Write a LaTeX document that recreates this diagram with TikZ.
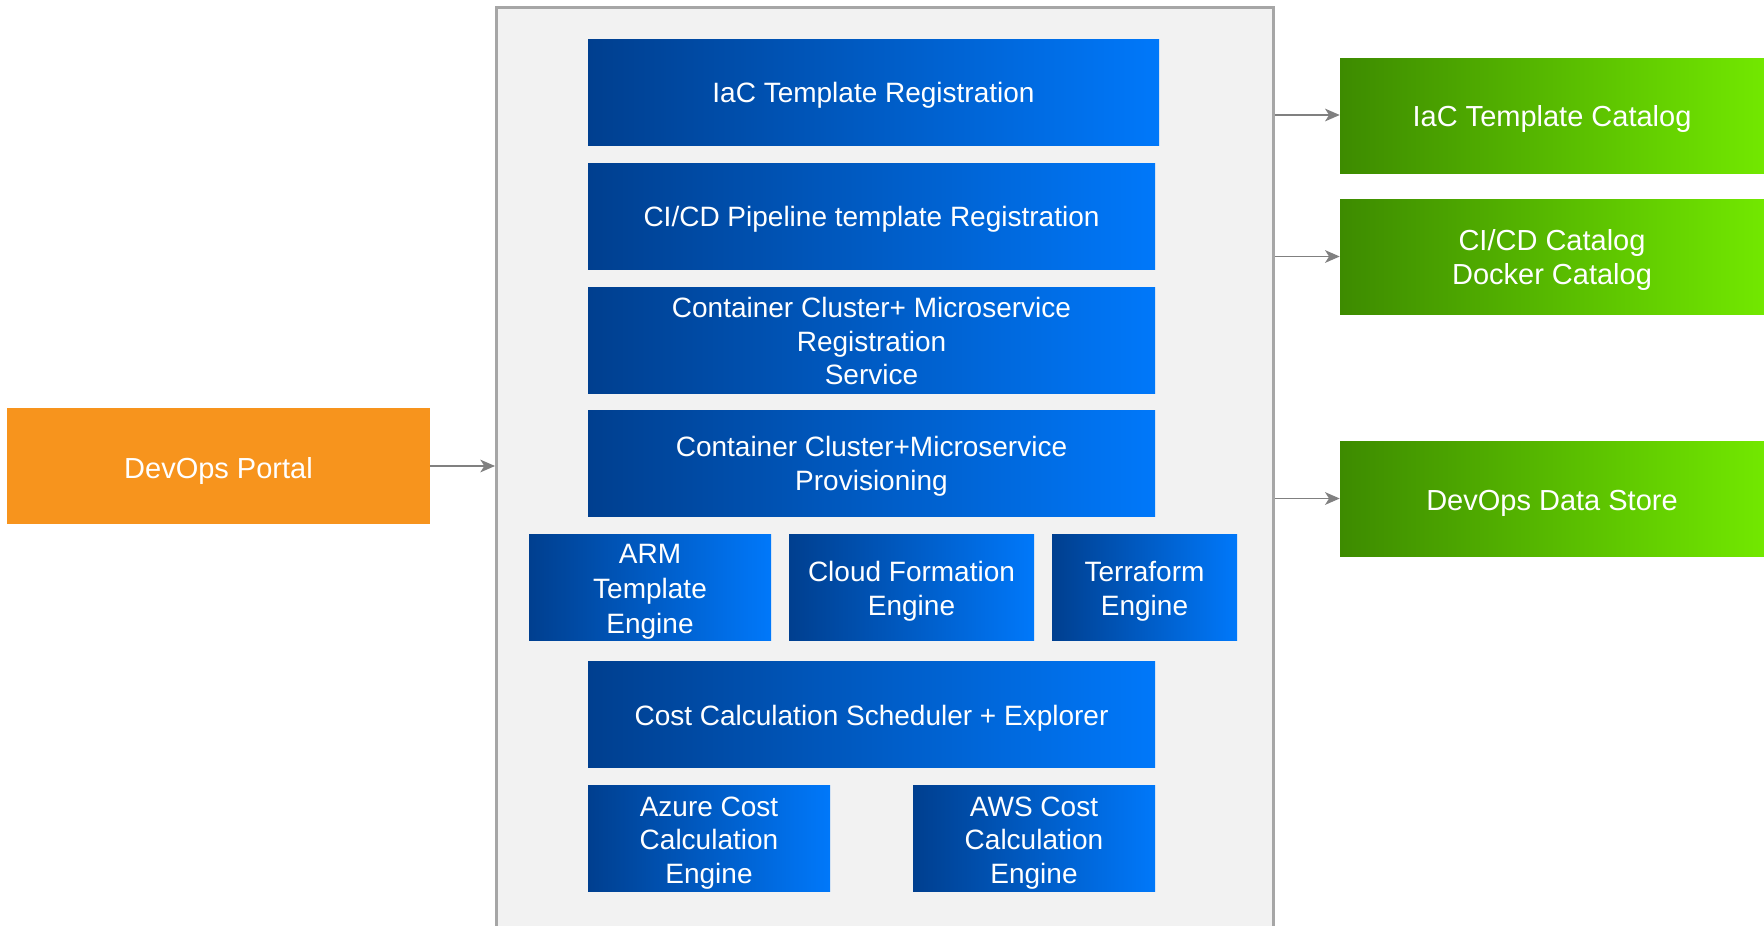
\documentclass[tikz,border=0pt]{standalone}
\usepackage{fontspec}
\setmainfont{Liberation Sans}
\usetikzlibrary{arrows.meta}
\definecolor{blueL}{HTML}{003F8F}
\definecolor{blueR}{HTML}{0078FA}
\definecolor{greenL}{HTML}{3D8B00}
\definecolor{greenR}{HTML}{72E800}
\definecolor{orangeC}{HTML}{F7941D}
\definecolor{panelC}{HTML}{F2F2F2}
\definecolor{panelB}{HTML}{A6A6A6}
\definecolor{arrowC}{HTML}{808080}
\begin{document}
\begin{tikzpicture}[x=0.75pt,y=-0.75pt,
  bluebox/.style={rectangle, inner sep=0pt, left color=blueL, right color=blueR, draw=none, minimum height=79.5pt},
  greenbox/.style={rectangle, inner sep=0pt, left color=greenL, right color=greenR, draw=none, minimum width=318pt, minimum height=86.25pt},
  btext/.style={inner sep=0pt, text=white, align=center, font=\fontsize{21}{25.3}\selectfont},
  gtext/.style={inner sep=0pt, text=white, align=center, font=\fontsize{21.75}{26}\selectfont},
  conn/.style={draw=arrowC, line width=1.1pt, -{Stealth[length=11pt,width=9.5pt,inset=3pt]}}
]
\useasboundingbox (0,0) rectangle (1764,925);
\fill[white] (0,0) rectangle (1764,925);

% main panel
\node[rectangle, inner sep=0pt, fill=panelC, draw=panelB, line width=2.25pt,
  minimum width=582.75pt, minimum height=720pt, anchor=north west] (main) at (495,6) {};

% blue boxes
\node[bluebox, minimum width=428.25pt] (iacreg) at (873.5,92) {};
\node[btext] (iacregT) at ([yshift=-2.5pt]iacreg.center) {IaC Template Registration};
\node[bluebox, minimum width=425.25pt] (cicdreg) at (871.5,216) {};
\node[btext] (cicdregT) at ([yshift=-2.5pt]cicdreg.center) {CI/CD Pipeline template Registration};
\node[bluebox, minimum width=425.25pt] (ccreg) at (871.5,340) {};
\node[btext] (ccregT) at ([yshift=-0.8pt]ccreg.center) {Container Cluster+ Microservice\\Registration\\Service};
\node[bluebox, minimum width=425.25pt] (ccprov) at (871.5,463) {};
\node[btext] (ccprovT) at ([yshift=-2.5pt]ccprov.center) {Container Cluster+Microservice\\Provisioning};
\node[bluebox, minimum width=181.5pt] (arm) at (650,587) {};
\node[btext, font=\fontsize{21}{26.2}\selectfont] (armT) at ([yshift=-3.4pt]arm.center) {ARM\\Template\\Engine};
\node[bluebox, minimum width=183.75pt] (cfe) at (911.5,587) {};
\node[btext] (cfeT) at ([yshift=-3pt]cfe.center) {Cloud Formation\\Engine};
\node[bluebox, minimum width=138.75pt] (tfe) at (1144.5,587) {};
\node[btext] (tfeT) at ([yshift=-3pt]tfe.center) {Terraform\\Engine};
\node[bluebox, minimum width=425.25pt] (cost) at (871.5,714) {};
\node[btext] (costT) at ([yshift=-3.4pt]cost.center) {Cost Calculation Scheduler + Explorer};
\node[bluebox, minimum width=181.5pt] (azure) at (709,838) {};
\node[btext] (azureT) at ([yshift=-3.8pt]azure.center) {Azure Cost\\Calculation\\Engine};
\node[bluebox, minimum width=181.5pt] (aws) at (1034,838) {};
\node[btext] (awsT) at ([yshift=-3.8pt]aws.center) {AWS Cost\\Calculation\\Engine};

% portal
\node[rectangle, inner sep=0pt, fill=orangeC, minimum width=317.25pt, minimum height=87pt] (portal) at (218.5,466) {};
\node[gtext] (portalT) at ([yshift=-3.4pt]portal.center) {DevOps Portal};

% green boxes
\node[greenbox] (iaccat) at (1552,116) {};
\node[gtext] (iaccatT) at ([yshift=-2.5pt]iaccat.center) {IaC Template Catalog};
\node[greenbox] (cicdcat) at (1552,256.5) {};
\node[gtext] (cicdcatT) at ([yshift=-2.5pt]cicdcat.center) {CI/CD Catalog\\Docker Catalog};
\node[greenbox] (store) at (1552,498.5) {};
\node[gtext] (storeT) at ([yshift=-3.4pt]store.center) {DevOps Data Store};

% connectors
\draw[conn] (portal.east) -- (portal.east -| main.west);
\draw[conn] ([yshift=0.75pt]iaccat.west -| main.east) -- ([yshift=0.75pt]iaccat.west);
\draw[conn] (cicdcat.west -| main.east) -- (cicdcat.west);
\draw[conn] (store.west -| main.east) -- (store.west);
\end{tikzpicture}
\end{document}
